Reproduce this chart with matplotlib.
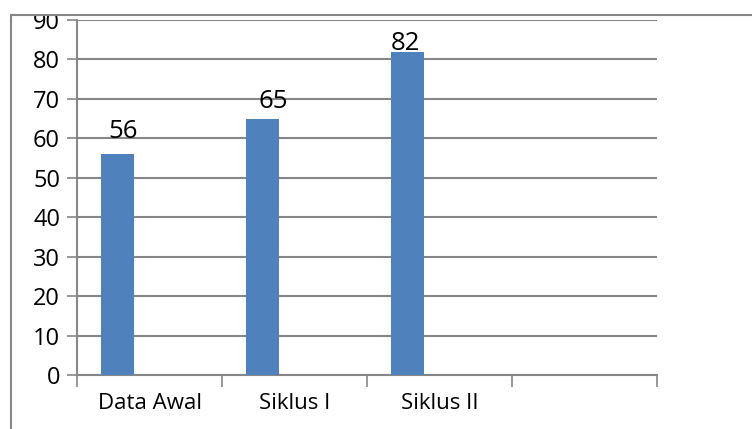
import matplotlib
matplotlib.use("Agg")
import matplotlib.pyplot as plt
from matplotlib.lines import Line2D
from matplotlib.patches import Rectangle

categories = ["Data Awal", "Siklus I", "Siklus II", ""]
values = [56, 65, 82]
y_ticks = [0, 10, 20, 30, 40, 50, 60, 70, 80, 90]

# label placement tweaks (pixels): dx, dy gap above bar
label_dx = [5.5, 11, -2]
label_gap = [16, 11, 2]

W, H, DPI = 752, 429, 100
fig = plt.figure(figsize=(W / DPI, H / DPI), dpi=DPI)
plt.rcParams['font.family'] = ['Open Sans', 'DejaVu Sans']
FS = 16

ax = fig.add_axes([77 / W, 54 / H, (657 - 77) / W, (375 - 20) / H])
bar_color = "#4F81BD"
grid_color = "#868686"

n = len(categories)
bar_w = 33 / 145
offset = 0.5 - 32 / 145
xs = [i + offset for i in range(len(values))]
ax.bar(xs, values, width=bar_w, color=bar_color, zorder=3)

ax.set_xlim(0, n)
ax.set_ylim(0, 90)
ax.set_yticks(y_ticks)
ax.set_yticklabels([str(t) for t in y_ticks], fontsize=17)
ax.yaxis.grid(True, color=grid_color, linewidth=1.5, zorder=0)
ax.set_axisbelow(True)

ax.set_xticks(range(n + 1))
ax.set_xticklabels([""] * (n + 1))
ax.set_xticks([i + 0.5 for i in range(n)], minor=True)
ax.set_xticklabels(categories, minor=True, fontsize=FS)
ax.tick_params(axis='x', which='major', direction='out', length=8.6, width=1.2, color=grid_color)
ax.tick_params(axis='x', which='minor', length=0, pad=13)
ax.tick_params(axis='y', direction='out', length=7.2, width=1.2, color=grid_color, pad=5)

for s in ['top', 'right']:
    ax.spines[s].set_visible(False)
for s in ['left', 'bottom']:
    ax.spines[s].set_color(grid_color)
    ax.spines[s].set_linewidth(1.5)

px = 72 / DPI
for x, v, dx, g in zip(xs, values, label_dx, label_gap):
    ax.annotate(str(v), xy=(x, v), xytext=(dx * px, g * px), textcoords='offset points',
                ha='center', va='baseline', fontsize=18.5, color='black', zorder=4)

# outer chart-area frame (cropped) and clipping above it
fig.patches.append(Rectangle((0, (H - 15) / H), 1, 15 / H, transform=fig.transFigure,
                             facecolor='white', edgecolor='none', zorder=10))
fig.lines.append(Line2D([11 / W, 1], [(H - 15) / H, (H - 15) / H], transform=fig.transFigure,
                        color=grid_color, linewidth=1.5, zorder=11))
fig.lines.append(Line2D([11 / W, 11 / W], [0, (H - 15) / H], transform=fig.transFigure,
                        color=grid_color, linewidth=1.5, zorder=11))

fig.savefig("out.png", dpi=DPI)
